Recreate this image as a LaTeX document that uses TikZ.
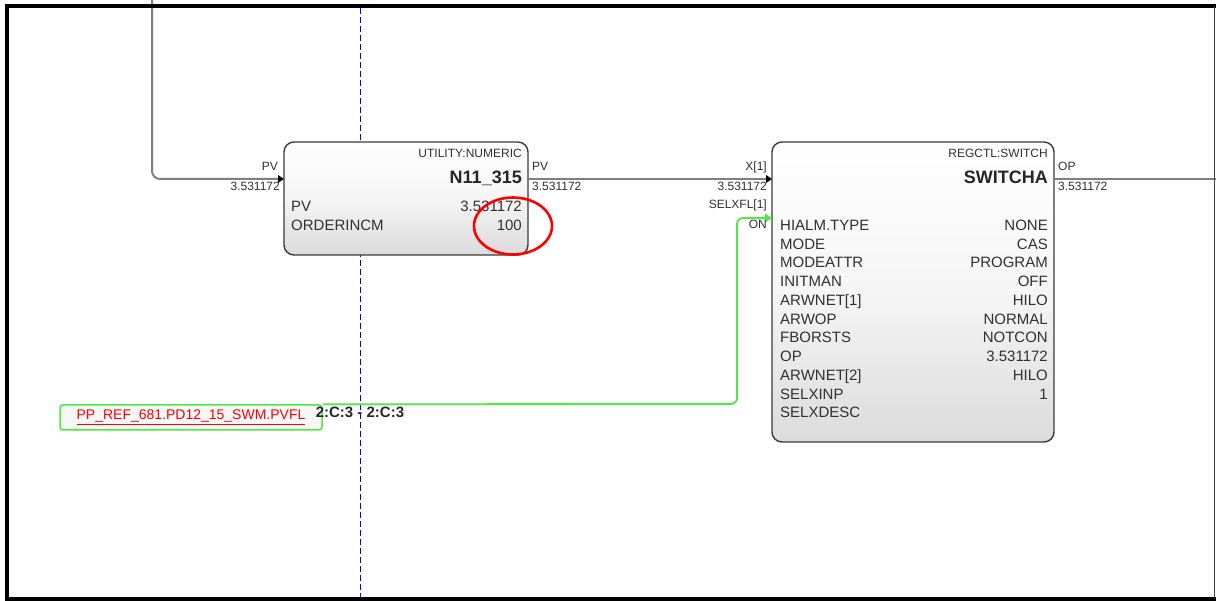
\documentclass[tikz,border=0pt]{standalone}
\usepackage{fontspec}
\setmainfont{Liberation Sans}
\usetikzlibrary{arrows.meta,calc}
\definecolor{linegray}{HTML}{7F7F7F}
\definecolor{boxborder}{HTML}{3A3A3A}
\definecolor{txt}{HTML}{303030}
\definecolor{lgreen}{HTML}{4CEB3C}
\begin{document}
\begin{tikzpicture}[x=1pt,y=-1pt,
  fblock/.style={draw=boxborder,line width=1.4pt,rounded corners=10pt,top color=white,bottom color=black!14,middle color=black!4,inner sep=0pt},
  small/.style={font=\fontsize{12}{12}\selectfont,text=txt,inner sep=0pt},
  rowl/.style={font=\fontsize{15}{15}\selectfont,text=txt,inner sep=0pt,anchor=base west},
  rowr/.style={font=\fontsize{15}{15}\selectfont,text=txt,inner sep=0pt,anchor=base east},
  title/.style={font=\bfseries\fontsize{18}{18}\selectfont,text=black!85,inner sep=0pt,anchor=base east},
  wire/.style={draw=linegray,line width=2pt},
  gwire/.style={draw=lgreen,line width=1.8pt},
  tip/.style={-{Triangle[length=6pt,width=7pt]}}
]
\useasboundingbox (0,0) rectangle (1216,601);
\fill[white] (0,0) rectangle (1216,601);
% blue dashed guide
\draw[blue,line width=1pt,dash pattern=on 6pt off 3pt] (360,8) -- (360,597);
% blocks
\node[fblock,minimum width=244pt,minimum height=113pt] (n11) at (406,198.5) {};
\node[fblock,minimum width=282pt,minimum height=300pt] (sw) at (913,292) {};
\node[draw=lgreen,line width=1.5pt,rounded corners=3pt,fill=black!3,minimum width=262pt,minimum height=25pt,inner sep=0pt] (pp) at (191,417.5) {};
\node[text=red,font=\fontsize{14}{14}\selectfont,inner sep=0pt] (pptxt) at (pp.center) {\underline{PP\_REF\_681.PD12\_15\_SWM.PVFL}};
% ports
\coordinate (n11in) at (284,179);
\coordinate (n11out) at (528,179);
\coordinate (swx) at (772,179);
\coordinate (swsel) at (772,218);
\coordinate (swout) at (1054,179);
\coordinate (top) at (152,0);
\coordinate (right) at (1216,179);
\coordinate (gcorner) at (737,404);
% connectors
\draw[wire,rounded corners=8pt] (top) -- (top |- n11in) -- (n11in);
\fill[black] (n11in) -- ++(-6,-4) -- ++(0,8) -- cycle;
\draw[wire] (n11out) -- (swx);
\fill[black] (swx) -- ++(-6,-4) -- ++(0,8) -- cycle;
\draw[wire] (swout) -- (right);
\draw[gwire,rounded corners=6pt] (pp.north east) -- (gcorner) -- (gcorner |- swsel) -- ($(swsel)+(-5,0)$);
\fill[lgreen] (swsel) -- ++(-7,-4.5) -- ++(0,9) -- cycle;
% N11 texts
\node[small,anchor=base east] (n11type) at (522,158) {UTILITY:NUMERIC};
\node[title] (n11name) at (522,184) {N11\_315};
\node[rowl] (n11r1l) at (291,211.5) {PV};
\node[rowr] (n11r1r) at (522,211.5) {3.531172};
\node[rowl] (n11r2l) at (291,230.5) {ORDERINCM};
\node[rowr] (n11r2r) at (522,230.5) {100};
\node[small,anchor=base east] (n11inl1) at (278,170.5) {PV};
\node[small,anchor=base east] (n11inl2) at (280,190.5) {3.531172};
\node[small,anchor=base west] (n11outl1) at (532,170.5) {PV};
\node[small,anchor=base west] (n11outl2) at (532,190.5) {3.531172};
% SWITCHA texts
\node[small,anchor=base east] (swtype) at (1048,158) {REGCTL:SWITCH};
\node[title] (swname) at (1048,184) {SWITCHA};
\foreach \l/\r [count=\i from 0] in {HIALM.TYPE/NONE,MODE/CAS,MODEATTR/PROGRAM,INITMAN/OFF,ARWNET[1]/HILO,ARWOP/NORMAL,FBORSTS/NOTCON,OP/3.531172,ARWNET[2]/HILO,SELXINP/1,SELXDESC/{}}{
  \node[rowl] (swl\i) at (780,{230.5+18.75*\i}) {\l};
  \node[rowr] (swr\i) at (1048,{230.5+18.75*\i}) {\r};
}
\node[small,anchor=base east] (swin1) at (767,170.5) {X[1]};
\node[small,anchor=base east] (swin2) at (767,190.5) {3.531172};
\node[small,anchor=base east] (swin3) at (767,208.5) {SELXFL[1]};
\node[small,anchor=base east] (swin4) at (767,228.5) {ON};
\node[small,anchor=base west] (swout1) at (1058,170.5) {OP};
\node[small,anchor=base west] (swout2) at (1058,190.5) {3.531172};
% link label
\node[font=\bfseries\fontsize{15}{15}\selectfont,text=black!85,inner sep=0pt,anchor=base] (lnk) at (360,418) {2:C:3 - 2:C:3};
% red annotation ellipse
\draw[red,line width=2.6pt] (513,226) ellipse [x radius=39pt,y radius=28.5pt];
% frame
\draw[black,line width=4pt] (7,601) -- (7,6) -- (1216,6);
\draw[black,line width=3.5pt] (5,599) -- (1216,599);
\draw[black!75,line width=1.5pt] (1214.5,6) -- (1214.5,599);
\end{tikzpicture}
\end{document}
